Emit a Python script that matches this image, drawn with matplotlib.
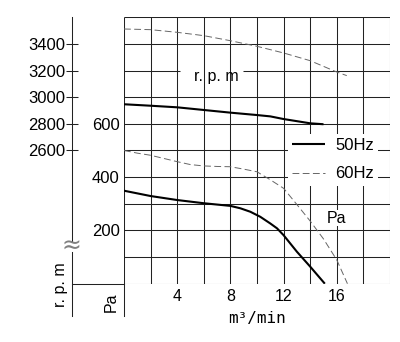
import matplotlib
matplotlib.use("Agg")
import numpy as np
import matplotlib.pyplot as plt
from matplotlib.lines import Line2D

# Fan performance data: air flow (m3/min) vs static pressure (Pa) and speed (rpm)
flow_50_pa = [0, 2, 4, 6, 8, 8.75, 9.5, 10.25, 11, 11.5, 12, 13, 14, 15.1]
pa_50 = [349, 329, 314, 302, 292, 283, 270, 251, 226, 208, 182, 120, 64, 0]

flow_60_pa = [0, 1, 2, 3, 4, 5, 6, 7, 8, 9, 10, 11, 12, 13, 14, 15, 16, 16.8]
pa_60 = [500, 490, 482, 470, 458, 447, 442, 440, 439, 430, 420, 390, 358, 297, 235, 168, 89, 0]

flow_50_rpm = [0, 2, 4, 6, 8, 10, 11, 12, 14, 15]
rpm_50 = [2947, 2936, 2924, 2904, 2884, 2866, 2856, 2836, 2804, 2797]

flow_60_rpm = [0, 2, 4, 6, 8, 10, 12, 14, 16, 16.75]
rpm_60 = [3512, 3507, 3487, 3462, 3424, 3382, 3332, 3274, 3189, 3162]

flow_ticks = [4, 8, 12, 16]
pa_ticks = [200, 400, 600]
rpm_ticks = [2600, 2800, 3000, 3200, 3400]
legend_labels = ["50Hz", "60Hz"]

SANS = "Liberation Sans"
MONO = "DejaVu Sans Mono"
GRID = "#222222"
GRID_LW = 0.75
DASH_COLOR = "#666666"
DASH = (0, (7, 3.5))

fig = plt.figure(figsize=(4.0, 3.42), dpi=100)
fig.patch.set_facecolor("white")

ax = fig.add_axes([0.31, 0.1705, 0.665, 0.779])
ax.set_xlim(0, 20)
ax.set_ylim(0, 1000)
for s in ax.spines.values():
    s.set_visible(False)

# grid: verticals every 2 m3/min, horizontals every 100 Pa
ax.vlines(np.arange(0, 21, 2), 0, 1000, color=GRID, lw=GRID_LW, zorder=1)
rows = [v for v in range(0, 1001, 100) if v != 800]
ax.hlines(rows, 0, 20, color=GRID, lw=GRID_LW, zorder=1)
# the 800 line is broken where the speed caption sits
ax.hlines([800, 800], [0, 8.95], [4.2, 20], color=GRID, lw=GRID_LW, zorder=1)

ax.set_xticks(flow_ticks)
ax.set_xticklabels([str(v) for v in flow_ticks], fontfamily=SANS, fontsize=11.5)
ax.set_yticks(pa_ticks)
ax.set_yticklabels([str(v) for v in pa_ticks], fontfamily=SANS, fontsize=12)
ax.tick_params(axis="both", length=0)
ax.tick_params(axis="x", pad=4)
ax.tick_params(axis="y", pad=3)
ax.set_xlabel("m³/min", fontfamily=MONO, fontsize=11.5, labelpad=5)

# pressure curves
l50, = ax.plot(flow_50_pa, pa_50, color="black", lw=1.5, zorder=4,
               solid_capstyle="butt")
l60, = ax.plot(flow_60_pa, pa_60, color=DASH_COLOR, lw=0.7, zorder=4,
               linestyle=DASH)

# speed axis on the far left
ax2 = ax.twinx()
ax2.set_ylim(1600, 3600)
for s in ax2.spines.values():
    s.set_visible(False)
ax2.yaxis.tick_left()
ax2.spines["left"].set_position(("outward", 37.7))
ax2.set_yticks(rpm_ticks)
ax2.set_yticklabels([str(v) for v in rpm_ticks], fontfamily=SANS, fontsize=12)
ax2.tick_params(axis="y", direction="inout", length=9, width=GRID_LW, pad=0,
                color=GRID)
ax2.set_xlim(0, 20)

ax2.plot(flow_50_rpm, rpm_50, color="black", lw=1.5, zorder=4,
         solid_capstyle="butt")
ax2.plot(flow_60_rpm, rpm_60, color=DASH_COLOR, lw=0.7, zorder=4,
         linestyle=DASH)

# legend in the upper right of the pressure region
leg = ax.legend([l50, l60], legend_labels, loc="upper left",
                bbox_to_anchor=(0.6165, 0.562), borderaxespad=0,
                prop={"family": SANS, "size": 12}, frameon=True,
                fancybox=False, edgecolor="none", facecolor="white",
                framealpha=1, handlelength=2.0, handletextpad=0.6,
                labelspacing=0.8, borderpad=0.25)
leg.set_zorder(3)

# captions inside the grid
ax.text(6.92, 776, "r. p. m", ha="center", va="center", fontfamily=SANS,
        fontsize=11.5, zorder=3)
ax.text(16.0, 246, "Pa", ha="center", va="center", fontfamily=SANS,
        fontsize=11.5, zorder=3,
        bbox=dict(facecolor="white", edgecolor="none", pad=0.5))

# frame lines outside the plotting area
def fline(x0, y0, x1, y1, color=GRID, lw=GRID_LW):
    fig.add_artist(Line2D([x0 / 400, x1 / 400], [1 - y0 / 342, 1 - y1 / 342],
                          transform=fig.transFigure, color=color, lw=lw))

fline(71.7, 17.3, 71.7, 241.0)
fline(71.7, 251.5, 71.7, 316)
fline(124, 283.7, 124, 316)
fline(71.7, 283.7, 124, 283.7)

fig.text(71.7 / 400, 1 - 246 / 342, "≈", ha="center", va="center",
         fontsize=17, color="#808080", fontfamily="DejaVu Sans")
fig.text(60 / 400, 1 - 285 / 342, "r. p. m", rotation=90, ha="center",
         va="center", fontfamily=SANS, fontsize=11.5)
fig.text(111 / 400, 1 - 302 / 342, "Pa", rotation=90, ha="center",
         va="center", fontfamily=SANS, fontsize=11.5)

fig.savefig("out.png", dpi=100, facecolor="white")
